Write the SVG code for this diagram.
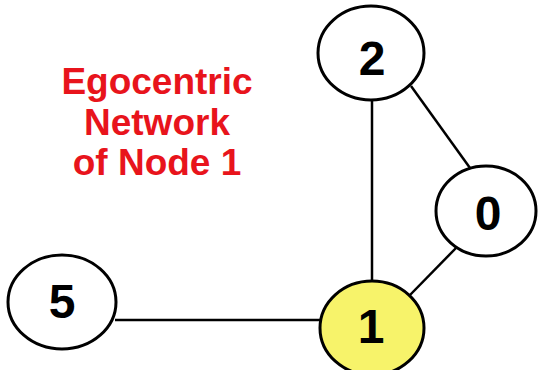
<svg xmlns="http://www.w3.org/2000/svg" width="538" height="370" viewBox="0 0 538 370">
<style>
.node{fill:#fff;stroke:#000;stroke-width:3}
.ego{fill:#f7f36a}
.lbl{font-family:"Liberation Sans",Arial,sans-serif;font-weight:bold;font-size:48px;fill:#000;text-anchor:middle}
.title{font-family:"Liberation Sans",Arial,sans-serif;font-weight:bold;font-size:37px;fill:#e8141c;text-anchor:middle}
.edge{stroke:#000;stroke-width:2.5;fill:none}
</style>
<rect width="538" height="370" fill="#fff"/>
<g id="title">
<text class="title" x="157" y="94">Egocentric</text>
<text class="title" x="157" y="135">Network</text>
<text class="title" x="157" y="175">of Node 1</text>
</g>
<g id="connectors">
<line class="edge" x1="372" y1="100" x2="372" y2="282"/>
<line class="edge" x1="411" y1="86" x2="470" y2="168"/>
<line class="edge" x1="456" y1="248" x2="410" y2="295"/>
<line class="edge" x1="115" y1="320" x2="322" y2="320"/>
</g>
<g id="node2">
<ellipse class="node" cx="371" cy="53" rx="53" ry="47"/>
<text class="lbl" x="372" y="75">2</text>
</g>
<g id="node0">
<ellipse class="node" cx="486" cy="211" rx="50" ry="45"/>
<text class="lbl" x="488" y="230">0</text>
</g>
<g id="node5">
<ellipse class="node" cx="62" cy="302" rx="54" ry="47"/>
<text class="lbl" x="62" y="318">5</text>
</g>
<g id="node1">
<ellipse class="node ego" cx="372" cy="328" rx="52" ry="47"/>
<text class="lbl" x="371" y="343">1</text>
</g>
</svg>
